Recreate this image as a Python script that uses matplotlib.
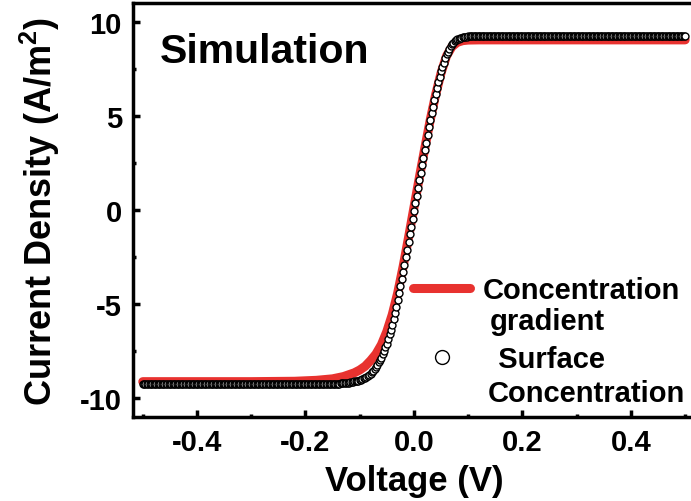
import numpy as np
import matplotlib
matplotlib.use('Agg')
import matplotlib.pyplot as plt

plt.rcParams['font.family'] = ['Liberation Sans', 'DejaVu Sans']
plt.rcParams['font.weight'] = 'bold'
plt.rcParams['mathtext.fontset'] = 'custom'
plt.rcParams['mathtext.rm'] = 'Liberation Sans:bold'
plt.rcParams['mathtext.bf'] = 'Liberation Sans:bold'

# red line: concentration gradient (V, J)
grad_v = [-0.50, -0.30, -0.22, -0.18, -0.15, -0.13, -0.11, -0.10, -0.09, -0.08,
          -0.07, -0.06, -0.05, -0.04, -0.03, -0.02, -0.01, 0.00, 0.01, 0.02,
          0.03, 0.04, 0.05, 0.06, 0.07, 0.08, 0.09, 0.10, 0.12, 0.15, 0.30, 0.50]
grad_j = [-9.12, -9.12, -9.10, -9.05, -8.97, -8.85, -8.65, -8.50, -8.30, -8.00,
          -7.65, -7.15, -6.45, -5.55, -4.40, -3.00, -1.45, 0.15, 1.75, 3.30,
          4.80, 6.15, 7.30, 8.20, 8.70, 8.93, 9.02, 9.05, 9.06, 9.06, 9.06, 9.06]

# open circles: surface concentration, voltage sweep -0.5 .. 0.5 in 2.5 mV steps
surf_v = np.linspace(-0.5, 0.5, 401)
surf_j = ([-9.27] * 140 +
          [-9.24, -9.24, -9.23, -9.23, -9.22, -9.22, -9.21, -9.21, -9.20, -9.20, -9.19, -9.19,
           -9.18, -9.16, -9.15, -9.13, -9.11, -9.10, -9.08, -9.06,
           -9.05, -9.02, -8.99, -8.95, -8.92, -8.87, -8.81, -8.76,
           -8.70, -8.61, -8.53, -8.44, -8.35, -8.23, -8.10, -7.98,
           -7.85, -7.66, -7.48, -7.29, -7.10, -6.85, -6.60, -6.35,
           -6.10, -5.78, -5.45, -5.13, -4.80, -4.43, -4.05, -3.68,
           -3.30, -2.90, -2.50, -2.10, -1.70, -1.29, -0.88, -0.46,
           -0.05, 0.36, 0.78, 1.19, 1.60, 2.00, 2.40, 2.80,
           3.20, 3.60, 4.00, 4.40, 4.80, 5.15, 5.50, 5.85,
           6.20, 6.50, 6.80, 7.10, 7.40, 7.63, 7.85, 8.08,
           8.30, 8.44, 8.58, 8.71, 8.85, 8.91, 8.98, 9.04,
           9.10, 9.13, 9.15, 9.18, 9.20, 9.21, 9.22, 9.23,
           9.24, 9.24, 9.24, 9.25, 9.25, 9.25, 9.26, 9.26, 9.26] +
          [9.27] * 152)

W, H = 691, 502
fig = plt.figure(figsize=(W / 100, H / 100), dpi=100)
ax = fig.add_axes([133 / W, 84 / H, 563 / W, 413.6 / H])

ax.plot(grad_v, grad_j, color='#e8322f', lw=6.5, solid_capstyle='round',
        label='Concentration', zorder=2)
ax.plot(surf_v, surf_j, 'o', ms=5, mfc='white', mec='black', mew=1.0,
        label='  Surface', zorder=3)

ax.set_xlim(-0.518, 0.52)
ax.set_ylim(-11, 11)
ax.set_xticks([-0.4, -0.2, 0.0, 0.2, 0.4])
ax.set_xticks([-0.5, -0.3, -0.1, 0.1, 0.3, 0.5], minor=True)
ax.set_yticks([-10, -5, 0, 5, 10])
ax.set_yticks([-7.5, -2.5, 2.5, 7.5], minor=True)
ax.set_xticklabels(['-0.4', '-0.2', '0.0', '0.2', '0.4'])
ax.set_yticklabels(['-10', '-5', '0', '5', '10'])

for s in ax.spines.values():
    s.set_linewidth(2.5)
ax.tick_params(which='both', direction='in', width=2.5, labelsize=21, pad=8)
ax.tick_params(which='major', length=5)
ax.tick_params(which='minor', length=2.5)

ax.set_xlabel('Voltage (V)', fontsize=25, fontweight='bold', labelpad=6)
ax.set_ylabel('Current Density (A/m$^{2}$)', fontsize=26, fontweight='bold', labelpad=13)

ax.text(160 / W, (H - 63) / H, 'Simulation', transform=fig.transFigure,
        fontsize=29.5, fontweight='bold', va='baseline')

leg = ax.legend(loc='upper left', bbox_to_anchor=(413 / W, (H - 277) / H),
                bbox_transform=fig.transFigure, frameon=False, fontsize=21,
                borderpad=0, borderaxespad=0, handlelength=1.97,
                handletextpad=0.41, labelspacing=1.4, numpoints=1,
                markerscale=2.0)
fig.text(490 / W, (H - 330) / H, 'gradient', fontsize=21, fontweight='bold',
         va='baseline')
fig.text(488 / W, (H - 402) / H, 'Concentration', fontsize=21, fontweight='bold',
         va='baseline')

fig.savefig('out.png', dpi=100)
